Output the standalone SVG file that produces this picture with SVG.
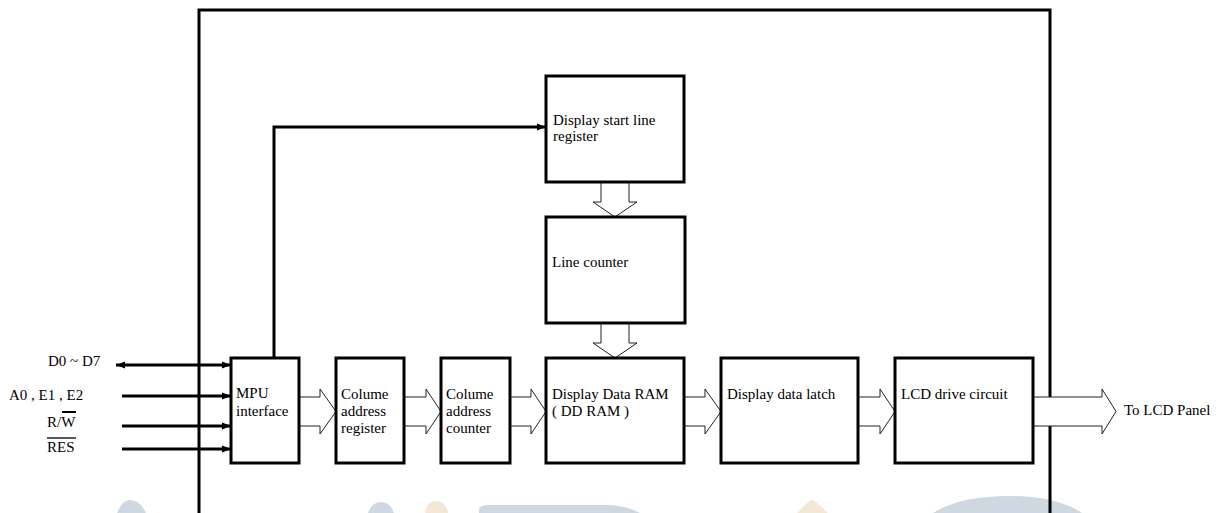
<svg xmlns="http://www.w3.org/2000/svg" width="1216" height="513" viewBox="0 0 1216 513">
<style>
.box{fill:#fff;stroke:#000;stroke-width:3}
.t{font-family:"Liberation Serif","Times New Roman",serif;font-size:15px;fill:#000}
.sig{fill:none;stroke:#000;stroke-width:3}
.hol{fill:#fff;stroke:#222;stroke-width:1}
.wm1{fill:#cfd8e1}
.wm2{fill:#f3e8d6}
</style>
<defs>
<marker id="ah" viewBox="0 0 10 8" refX="10" refY="4" markerWidth="9" markerHeight="8" markerUnits="userSpaceOnUse" orient="auto-start-reverse">
<path d="M0,0 L10,4 L0,8 Z" fill="#000"/>
</marker>
</defs>
<rect width="1216" height="513" fill="#fff"/>
<g id="watermark">
<path class="wm1" d="M117,513 Q122,500 130,500 Q140,500 146,513 Z"/>
<path class="wm1" d="M368,513 Q372,502 381,502 Q390,502 394,513 Z"/>
<path class="wm2" d="M425,513 Q427,501 436,501 Q446,501 448,513 Z"/>
<path class="wm1" d="M479,513 L479,510 Q479,505 490,505 L605,505 Q625,505 640,513 Z"/>
<path class="wm2" d="M797,513 L808,502 Q812,498 816,502 L828,513 Z"/>
<path class="wm1" d="M933,513 Q960,496 1008,496 Q1056,496 1082,513 Z"/>
</g>
<g id="frame">
<path d="M199,513 V10 H1050 V513" fill="none" stroke="#000" stroke-width="3"/>
</g>
<g id="connectors">
<line class="sig" x1="116" y1="365" x2="231" y2="365" marker-start="url(#ah)" marker-end="url(#ah)"/>
<line class="sig" x1="122" y1="396" x2="231" y2="396" marker-end="url(#ah)"/>
<line class="sig" x1="122" y1="426" x2="231" y2="426" marker-end="url(#ah)"/>
<line class="sig" x1="122" y1="449" x2="231" y2="449" marker-end="url(#ah)"/>
<path class="sig" d="M274,358 V127 H546" marker-end="url(#ah)"/>
<path class="hol" d="M299,397 H320 V389 L336,411.5 L320,434 V426 H299"/>
<path class="hol" d="M404,397 H426 V389 L441,411.5 L426,434 V426 H404"/>
<path class="hol" d="M510,397 H531 V389 L546,411.5 L531,434 V426 H510"/>
<path class="hol" d="M684,397 H705 V389 L721,411.5 L705,434 V426 H684"/>
<path class="hol" d="M858,397 H880 V389 L895,411.5 L880,434 V426 H858"/>
<path class="hol" d="M1033,397 H1102 V389 L1116,411.5 L1102,434 V426 H1033"/>
<path class="hol" d="M601,182 V202 H593 L615,217 L637,202 H629 V182"/>
<path class="hol" d="M601,323 V343 H593 L615,358 L637,343 H629 V323"/>
</g>
<g id="start-line-register">
<rect class="box" x="546" y="76" width="138" height="106"/>
<text class="t" x="553" y="125">Display start line</text>
<text class="t" x="553" y="141">register</text>
</g>
<g id="line-counter">
<rect class="box" x="546" y="217" width="139" height="106"/>
<text class="t" x="552" y="267">Line counter</text>
</g>
<g id="mpu-interface">
<rect class="box" x="231" y="358" width="68" height="105"/>
<text class="t" x="236" y="398">MPU</text>
<text class="t" x="236" y="416">interface</text>
</g>
<g id="colume-address-register">
<rect class="box" x="336" y="358" width="68" height="105"/>
<text class="t" x="341" y="399">Colume</text>
<text class="t" x="341" y="416">address</text>
<text class="t" x="341" y="433">register</text>
</g>
<g id="colume-address-counter">
<rect class="box" x="441" y="358" width="69" height="105"/>
<text class="t" x="446" y="399">Colume</text>
<text class="t" x="446" y="416">address</text>
<text class="t" x="446" y="433">counter</text>
</g>
<g id="dd-ram">
<rect class="box" x="546" y="358" width="138" height="105"/>
<text class="t" x="552" y="399">Display Data RAM</text>
<text class="t" x="552" y="416">( DD RAM )</text>
</g>
<g id="display-data-latch">
<rect class="box" x="721" y="358" width="137" height="105"/>
<text class="t" x="727" y="399">Display data latch</text>
</g>
<g id="lcd-drive-circuit">
<rect class="box" x="895" y="358" width="138" height="105"/>
<text class="t" x="901" y="399">LCD drive circuit</text>
</g>
<g id="labels">
<text class="t" x="48" y="366">D0 ~ D7</text>
<text class="t" x="9" y="400">A0 , E1 , E2</text>
<text class="t" x="47" y="427">R/W</text>
<line x1="62" y1="412" x2="76" y2="412" stroke="#000" stroke-width="2"/>
<text class="t" x="47" y="452">RES</text>
<line x1="47" y1="438" x2="76" y2="438" stroke="#000" stroke-width="1.3"/>
<text class="t" x="1124" y="415">To LCD Panel</text>
</g>
</svg>
